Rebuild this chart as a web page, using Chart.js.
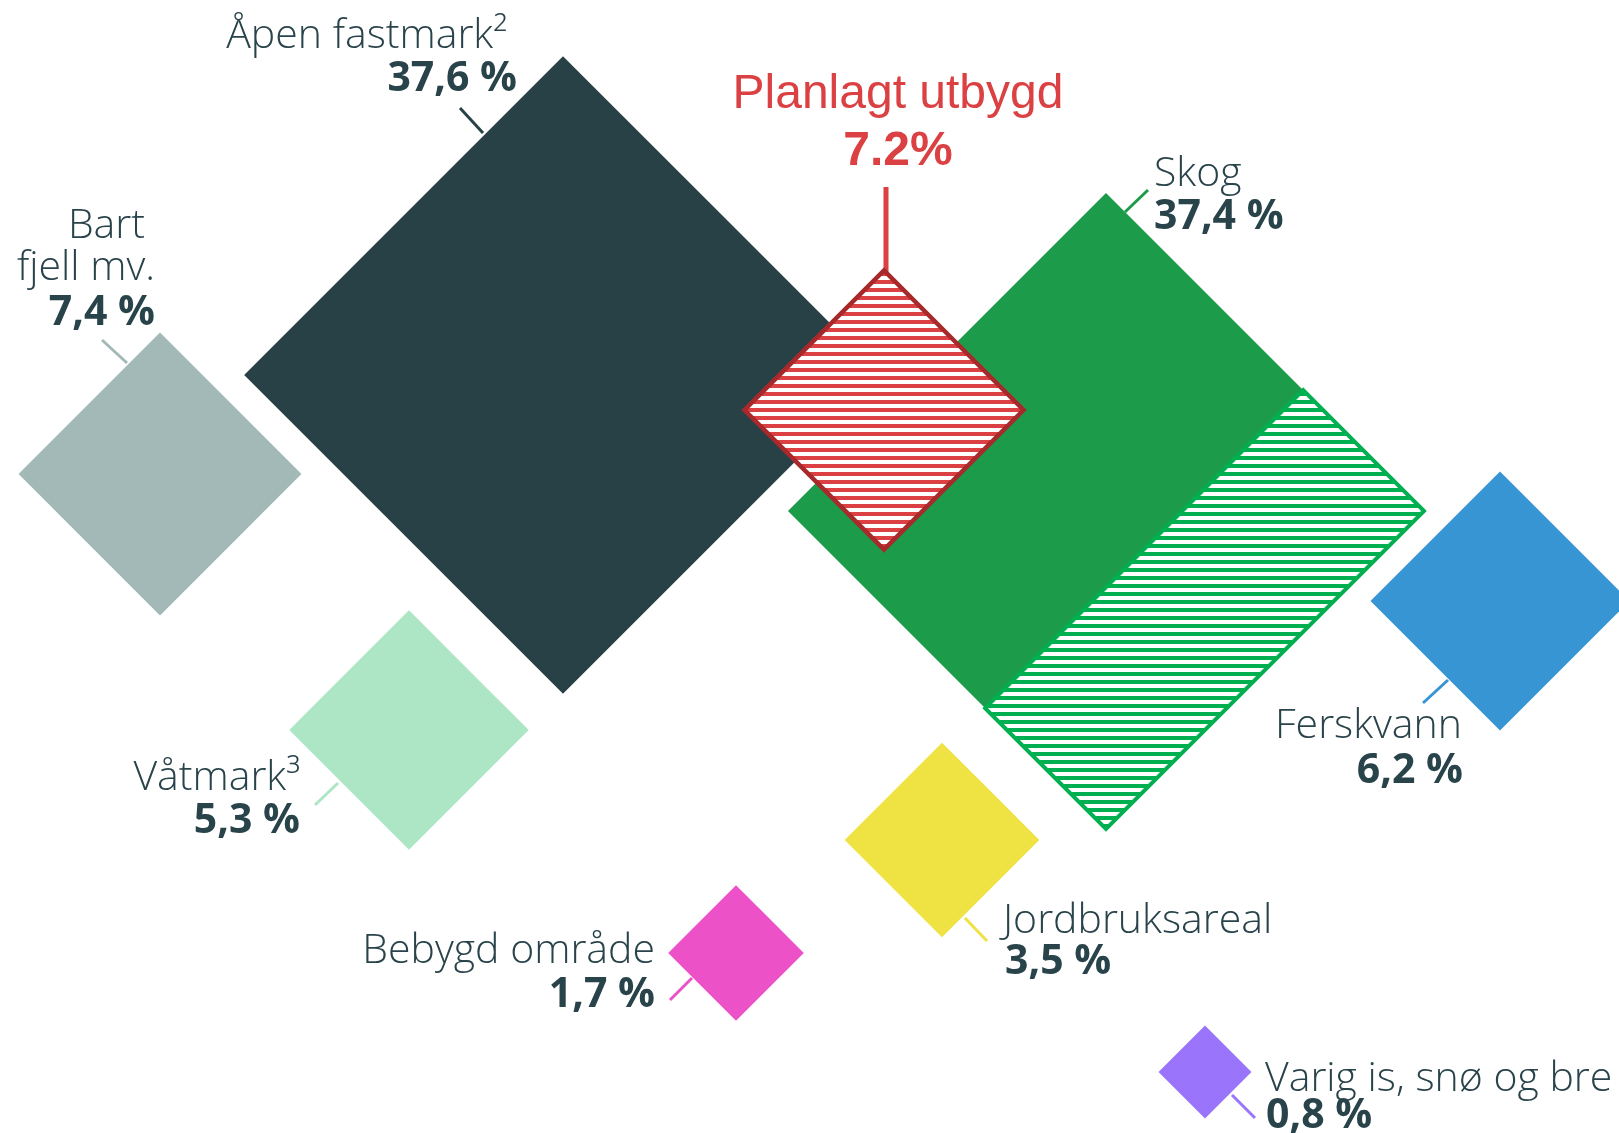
<!DOCTYPE html>
<html>
<head>
<meta charset="utf-8">
<script src="https://cdn.jsdelivr.net/npm/chart.js@4/dist/chart.umd.min.js"></script>
<style>
  html, body { margin: 0; padding: 0; background: #fff; }
  canvas { display: block; }
</style>
</head>
<body>
<canvas id="c" width="1619" height="1133"></canvas>
<script>
// Arealfordeling (share of land area, %). Diamond area is proportional to the share.
const categories = ['Åpen fastmark²', 'Skog', 'Bart\nfjell mv.', 'Våtmark³', 'Ferskvann', 'Jordbruksareal', 'Bebygd område', 'Varig is, snø og bre'];
const shares = [37.6, 37.4, 7.4, 5.3, 6.2, 3.5, 1.7, 0.8];
const colors = ['#284147', '#1c9c4b', '#a3b9b8', '#ade6c4', '#3795d3', '#efe243', '#ec51c8', '#9a75fb'];

const planlagtTitle = 'Planlagt utbygd';
const planlagtShare = 7.2;
const planlagtLabel = '7.2%';
// part of Skog that is hatched (share of the Skog diamond)
const skogHatchShare = 0.38;

// ---- layout (pixel units on hidden 1:1 axes) ----
const W = 1619, H = 1133;
const K = 52; // half-diagonal per sqrt(%)
const centers = [[563, 375], [1106, 511], [160, 474], [409, 730], [1500, 601], [942, 840], [736, 953], [1205, 1072]];
const planlagtCenter = [884, 410];
// [align, name lines [[x,y]...], value [x,y]]
const labelPos = [
  ['right', [[507, 48]], [517, 91]],
  ['left', [[1154, 186]], [1154, 229]],
  ['right', [[145, 238], [155, 280]], [155, 325]],
  ['right', [[300, 790]], [300, 833]],
  ['right', [[1462, 738]], [1463, 783]],
  ['left', [[1003, 933]], [1005, 974]],
  ['right', [[655, 963]], [655, 1007]],
  ['left', [[1265, 1091]], [1266, 1128]],
];
const leaders = [
  [[460, 108], [483, 133]],
  [[1148, 190], [1125, 212]],
  [[102, 340], [127, 363]],
  [[315, 805], [338, 783]],
  [[1423, 703], [1448, 680]],
  [[965, 918], [987, 941]],
  [[670, 1000], [692, 978]],
  [[1232, 1095], [1255, 1118]],
];
const planlagtLeader = [[886, 187], [886, 273]];
const planlagtTitlePos = [898, 108];
const planlagtValuePos = [898, 165];

const TEXT = '#29434a';
const RED = '#db4043';
const RED_DARK = '#a8292b';
const HATCH_GREEN = '#00b050';

function stripes(color, period, thick) {
  const c = document.createElement('canvas');
  c.width = period; c.height = period;
  const g = c.getContext('2d');
  g.fillStyle = '#ffffff';
  g.fillRect(0, 0, period, period);
  g.fillStyle = color;
  g.fillRect(0, 0, period, thick);
  return g.createPattern(c, 'repeat');
}

// closed polygon, starting/ending at the middle of the first edge so every corner is joined
function polygon(pts) {
  const mid = { x: (pts[0][0] + pts[1][0]) / 2, y: (pts[0][1] + pts[1][1]) / 2 };
  const out = [mid];
  for (let i = 1; i < pts.length; i++) out.push({ x: pts[i][0], y: pts[i][1] });
  out.push({ x: pts[0][0], y: pts[0][1] }, mid);
  return out;
}
function diamond(c, value) {
  const h = K * Math.sqrt(value);
  return polygon([[c[0], c[1] - h], [c[0] + h, c[1]], [c[0], c[1] + h], [c[0] - h, c[1]]]);
}

const layers = [];
function shape(data, fillColor, border, borderWidth) {
  layers.push({
    data, fill: 'shape', backgroundColor: fillColor,
    borderColor: border || 'rgba(0,0,0,0)', borderWidth: borderWidth || 0.01,
    borderJoinStyle: 'miter', pointRadius: 0, tension: 0
  });
}
function segment(p, color, width) {
  layers.push({
    data: p.map(q => ({ x: q[0], y: q[1] })), fill: false,
    borderColor: color, borderWidth: width, borderCapStyle: 'butt', pointRadius: 0, tension: 0
  });
}

// leaders first (under the shapes)
leaders.forEach((l, i) => segment(l, colors[i], 3));
segment(planlagtLeader, RED, 5);

shares.forEach((v, i) => shape(diamond(centers[i], v), colors[i]));

// hatched strip along the lower-right edge of Skog
(function () {
  const [cx, cy] = centers[1];
  const h = K * Math.sqrt(shares[1]);
  const w = skogHatchShare * h * Math.SQRT2; // width across the strip
  const d = w / Math.SQRT2;
  const R = [cx + h, cy], B = [cx, cy + h];
  const T = [R[0] - d, R[1] - d], L = [B[0] - d, B[1] - d];
  shape(polygon([T, R, B, L]), stripes(HATCH_GREEN, 8, 4), HATCH_GREEN, 4);
})();

shape(diamond(planlagtCenter, planlagtShare), stripes(RED, 8, 4), RED_DARK, 4.5);

// later layers on top
layers.forEach((d, i) => { d.order = layers.length - i; });

const labelPlugin = {
  id: 'areaLabels',
  afterDatasetsDraw(chart) {
    const { ctx, scales: { x, y } } = chart;
    ctx.save();
    ctx.textBaseline = 'alphabetic';
    ctx.fillStyle = TEXT;
    categories.forEach((name, i) => {
      const [align, namePts, valPt] = labelPos[i];
      ctx.textAlign = align;
      ctx.font = '300 41px "Open Sans"';
      name.split('\n').forEach((line, j) => {
        ctx.fillText(line, x.getPixelForValue(namePts[j][0]), y.getPixelForValue(namePts[j][1]));
      });
      ctx.font = '700 41px "Open Sans"';
      const txt = shares[i].toFixed(1).replace('.', ',') + ' %';
      ctx.fillText(txt, x.getPixelForValue(valPt[0]), y.getPixelForValue(valPt[1]));
    });
    ctx.fillStyle = RED;
    ctx.textAlign = 'center';
    ctx.font = '400 48px "Liberation Sans"';
    ctx.fillText(planlagtTitle, x.getPixelForValue(planlagtTitlePos[0]), y.getPixelForValue(planlagtTitlePos[1]));
    ctx.font = '700 48px "Liberation Sans"';
    ctx.fillText(planlagtLabel, x.getPixelForValue(planlagtValuePos[0]), y.getPixelForValue(planlagtValuePos[1]));
    ctx.restore();
  }
};

new Chart(document.getElementById('c'), {
  type: 'line',
  data: { datasets: layers },
  options: {
    responsive: false,
    devicePixelRatio: 1,
    animation: false,
    events: [],
    layout: { padding: 0 },
    scales: {
      x: { type: 'linear', min: 0, max: W, display: false },
      y: { type: 'linear', min: 0, max: H, reverse: true, display: false }
    },
    plugins: { legend: { display: false }, tooltip: { enabled: false } }
  },
  plugins: [labelPlugin]
});
</script>
</body>
</html>
